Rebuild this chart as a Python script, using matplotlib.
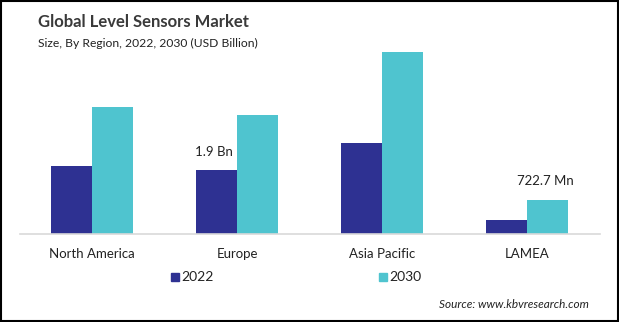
from matplotlib import pyplot as plt
from matplotlib.patches import Rectangle
import numpy as np

# chart data (USD Billion)
regions = ['North America', 'Europe', 'Asia Pacific', 'LAMEA']
years = ['2022', '2030']
values_2022 = [2.02, 1.90, 2.70, 0.42]
values_2030 = [3.76, 3.53, 5.40, 1.01]
# (region index, year index, text)
value_labels = [(1, 0, '1.9 Bn'), (3, 1, '722.7 Mn')]

colors = ['#2E3192', '#4FC4CF']
font = ['Lato', 'DejaVu Sans']

fig = plt.figure(figsize=(6.19, 3.22), dpi=100)
ax = fig.add_axes([19.5 / 619, 88 / 322, 580 / 619, 202 / 322])

x = np.arange(len(regions))
w = 0.286
series = [values_2022, values_2030]
bars = []
for i, vals in enumerate(series):
    offset = (i - 0.5) * w
    bars.append(ax.bar(x + offset, vals, width=w, color=colors[i], zorder=2))

for r, s, text in value_labels:
    b = bars[s][r]
    ax.annotate(text, (b.get_x() + b.get_width() / 2, b.get_height()),
                xytext=(-2, 9), textcoords='offset points',
                ha='center', va='bottom', fontsize=9.5, family=font, color='#222222')

ax.set_xlim(-0.5, 3.5)
ax.set_ylim(0, 6)
ax.set_xticks(x)
ax.set_xticklabels(regions, family=font, fontsize=9.5, color='#222222')
ax.tick_params(axis='x', length=0, pad=10)
ax.set_yticks([])
for side in ['top', 'right', 'left']:
    ax.spines[side].set_visible(False)
ax.spines['bottom'].set_color('#d9d9d9')
ax.spines['bottom'].set_linewidth(1.2)

fig.text(38 / 619, 1 - 22 / 322, 'Global Level Sensors Market', fontsize=12,
         fontweight='bold', family=font, color='#3a3a3a', va='center')
fig.text(38 / 619, 1 - 43 / 322, 'Size, By Region, 2022, 2030 (USD Billion)',
         fontsize=8.7, family=font, color='#222222', va='center')

leg_pos = [171, 379]
for c, yr, px in zip(colors, years, leg_pos):
    fig.patches.append(Rectangle((px / 619, 1 - 281 / 322), 8 / 619, 8 / 322,
                                 transform=fig.transFigure, color=c))
    fig.text((px + 10) / 619, 1 - 277 / 322, yr, fontsize=10, family=font,
             color='#222222', va='center')

fig.text(589 / 619, 1 - 305 / 322, 'Source: www.kbvresearch.com', fontsize=8.5,
         style='italic', family=font, color='#222222', ha='right', va='center')

fig.patches.append(Rectangle((0.002, 0.003), 0.996, 0.994, transform=fig.transFigure,
                             fill=False, edgecolor='black', linewidth=1.5))

fig.savefig('out.png', dpi=100)
